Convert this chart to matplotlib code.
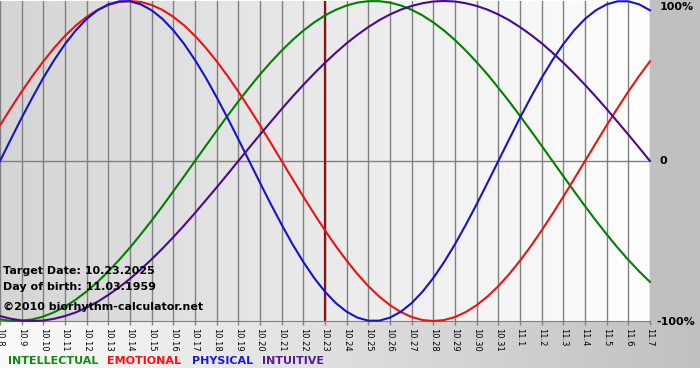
import matplotlib
matplotlib.use("Agg")
import matplotlib.pyplot as plt  # noqa: E402
import numpy as np  # noqa: E402
from matplotlib.colors import LinearSegmentedColormap  # noqa: E402
from matplotlib.patches import Rectangle  # noqa: E402

# day labels (month.day), 10.8 .. 11.7
days = ["10.8", "10.9", "10.10", "10.11", "10.12", "10.13", "10.14", "10.15",
        "10.16", "10.17", "10.18", "10.19", "10.20", "10.21", "10.22", "10.23",
        "10.24", "10.25", "10.26", "10.27", "10.28", "10.29", "10.30", "10.31",
        "11.1", "11.2", "11.3", "11.4", "11.5", "11.6", "11.7"]
target_day = "10.23"

# cycle values, -1 .. 1, read every half day from 10.8 to 11.7
intellectual = [-0.990, -0.999, -0.999, -0.990, -0.972, -0.945, -0.910, -0.866,
                -0.815, -0.756, -0.690, -0.618, -0.541, -0.458, -0.372, -0.282,
                -0.189, -0.095, 0.000, 0.095, 0.189, 0.282, 0.372, 0.458, 0.541,
                0.618, 0.690, 0.756, 0.815, 0.866, 0.910, 0.945, 0.972, 0.990,
                0.999, 0.999, 0.990, 0.972, 0.945, 0.910, 0.866, 0.815, 0.756,
                0.690, 0.618, 0.541, 0.458, 0.372, 0.282, 0.189, 0.095, 0.000,
                -0.095, -0.189, -0.282, -0.372, -0.458, -0.541, -0.618, -0.690,
                -0.756]
emotional = [0.223, 0.330, 0.434, 0.532, 0.623, 0.707, 0.782, 0.847, 0.901, 0.944,
             0.975, 0.994, 1.000, 0.994, 0.975, 0.944, 0.901, 0.847, 0.782, 0.707,
             0.623, 0.532, 0.434, 0.330, 0.223, 0.112, 0.000, -0.112, -0.223,
             -0.330, -0.434, -0.532, -0.623, -0.707, -0.782, -0.847, -0.901,
             -0.944, -0.975, -0.994, -1.000, -0.994, -0.975, -0.944, -0.901,
             -0.847, -0.782, -0.707, -0.623, -0.532, -0.434, -0.330, -0.223,
             -0.112, 0.000, 0.112, 0.223, 0.330, 0.434, 0.532, 0.623]
physical = [0.000, 0.136, 0.270, 0.398, 0.520, 0.631, 0.731, 0.817, 0.888, 0.942,
            0.979, 0.998, 0.998, 0.979, 0.942, 0.888, 0.817, 0.731, 0.631, 0.520,
            0.398, 0.270, 0.136, 0.000, -0.136, -0.270, -0.398, -0.520, -0.631,
            -0.731, -0.817, -0.888, -0.942, -0.979, -0.998, -0.998, -0.979,
            -0.942, -0.888, -0.817, -0.731, -0.631, -0.520, -0.398, -0.270,
            -0.136, 0.000, 0.136, 0.270, 0.398, 0.520, 0.631, 0.731, 0.817,
            0.888, 0.942, 0.979, 0.998, 0.998, 0.979, 0.942]
intuitive = [-0.969, -0.986, -0.997, -1.000, -0.997, -0.986, -0.969, -0.946,
             -0.916, -0.880, -0.837, -0.789, -0.736, -0.677, -0.614, -0.547,
             -0.476, -0.402, -0.325, -0.245, -0.165, -0.083, 0.000, 0.083, 0.165,
             0.245, 0.325, 0.402, 0.476, 0.547, 0.614, 0.677, 0.736, 0.789, 0.837,
             0.880, 0.916, 0.946, 0.969, 0.986, 0.997, 1.000, 0.997, 0.986, 0.969,
             0.946, 0.916, 0.880, 0.837, 0.789, 0.736, 0.677, 0.614, 0.547, 0.476,
             0.402, 0.325, 0.245, 0.165, 0.083, 0.000]

series = [
    ("INTELLECTUAL", intellectual, "#008000"),
    ("EMOTIONAL", emotional, "#e81414"),
    ("PHYSICAL", physical, "#1414cc"),
    ("INTUITIVE", intuitive, "#4b0a8c"),
]
legend_colors = {"INTELLECTUAL": "#108a10", "EMOTIONAL": "#ff1010",
                 "PHYSICAL": "#1818e0", "INTUITIVE": "#5a1a9a"}

W, H = 700, 380
PLOT_R, PLOT_T, PLOT_B = 650, 1, 321

fig = plt.figure(figsize=(W / 100, H / 100), dpi=100)
fig.patch.set_facecolor("white")

# background panels
bg = fig.add_axes([0, 0, 1, 1])
bg.set_xlim(0, W)
bg.set_ylim(H, 0)
bg.axis("off")
grad = np.linspace(0, 1, 256).reshape(1, -1)
strip_cmap = LinearSegmentedColormap.from_list("strip", ["#fbfbfb", "#c0c0c0"])
bg.imshow(grad, cmap=strip_cmap, extent=(0, W, 368, PLOT_B), aspect="auto")
bg.add_patch(Rectangle((PLOT_R, 0), W - PLOT_R, PLOT_B, color="#c0c0c0", lw=0))

# chart
ax = fig.add_axes([0, 1 - PLOT_B / H, PLOT_R / W, (PLOT_B - PLOT_T) / H])
ax.patch.set_visible(False)
x = np.arange(len(days))
ax.set_xlim(0, len(days) - 1)
ax.set_ylim(-1, 1)
plot_cmap = LinearSegmentedColormap.from_list("plot", ["#d5d5d5", "#ffffff"])
ax.imshow(grad, cmap=plot_cmap, extent=(0, len(days) - 1, -1, 1),
          aspect="auto", zorder=0)

ax.set_xticks(x)
ax.set_xticklabels(days, rotation=270, fontsize=6, va="top", ha="center")
ax.tick_params(axis="x", length=3, color="#808080", pad=2, width=1)
ax.set_yticks([])
ax.grid(axis="x", color="#808080", lw=1, zorder=1)
ax.axhline(0, color="#808080", lw=1, zorder=1)
for side in ["top", "left", "right"]:
    ax.spines[side].set_visible(False)
ax.spines["bottom"].set_color("#808080")

ax.axvline(days.index(target_day), color="#8b1212", lw=1.6, zorder=2)

for name, vals, col in series:
    t = np.arange(len(vals)) / 2  # half-day samples
    ax.plot(t, vals, color=col, lw=1.5, clip_on=False, zorder=3)

# labels on the right
fig.text(660 / W, 1 - 7 / H, "100%", fontsize=8, weight="bold", va="center")
fig.text(660 / W, 1 - 161 / H, "0", fontsize=8, weight="bold", va="center")
fig.text(656 / W, 1 - 322 / H, "-100%", fontsize=8, weight="bold", va="center")

# info text
fig.text(3 / W, 1 - 271 / H, "Target Date: 10.23.2025", fontsize=8,
         weight="bold", va="center")
fig.text(3 / W, 1 - 287 / H, "Day of birth: 11.03.1959", fontsize=8,
         weight="bold", va="center")
fig.text(3 / W, 1 - 307 / H, "\u00a92010 biorhythm-calculator.net", fontsize=8,
         weight="bold", va="center")

# legend
leg_x = [8, 107, 192, 262]
for (name, vals, col), lx in zip(series, leg_x):
    fig.text(lx / W, 1 - 361 / H, name, fontsize=8, weight="bold",
             color=legend_colors[name], va="center")

fig.savefig("out.png", dpi=100)
